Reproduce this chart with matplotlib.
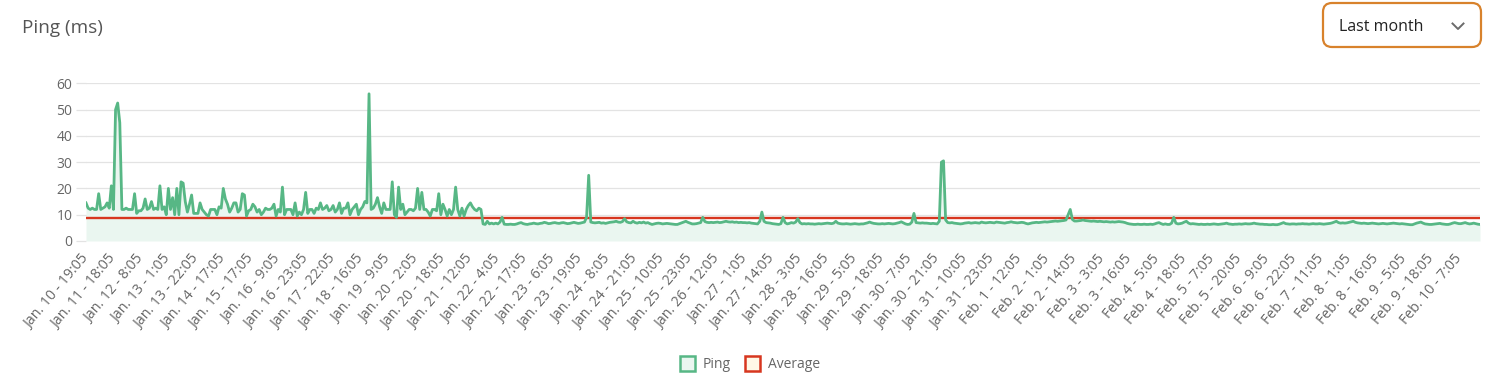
import numpy as np
import matplotlib
matplotlib.use('Agg')
import matplotlib.pyplot as plt
from matplotlib.patches import FancyBboxPatch, Rectangle
from matplotlib.lines import Line2D
from matplotlib.transforms import IdentityTransform

# ---------------- data ----------------
tick_labels = [
    "Jan. 10 - 19:05", "Jan. 11 - 18:05", "Jan. 12 - 8:05", "Jan. 13 - 1:05", "Jan. 13 - 22:05",
    "Jan. 14 - 17:05", "Jan. 15 - 17:05", "Jan. 16 - 9:05", "Jan. 16 - 23:05", "Jan. 17 - 22:05",
    "Jan. 18 - 16:05", "Jan. 19 - 9:05", "Jan. 20 - 2:05", "Jan. 20 - 18:05", "Jan. 21 - 12:05",
    "Jan. 22 - 4:05", "Jan. 22 - 17:05", "Jan. 23 - 6:05", "Jan. 23 - 19:05", "Jan. 24 - 8:05",
    "Jan. 24 - 21:05", "Jan. 25 - 10:05", "Jan. 25 - 23:05", "Jan. 26 - 12:05", "Jan. 27 - 1:05",
    "Jan. 27 - 14:05", "Jan. 28 - 3:05", "Jan. 28 - 16:05", "Jan. 29 - 5:05", "Jan. 29 - 18:05",
    "Jan. 30 - 7:05", "Jan. 30 - 21:05", "Jan. 31 - 10:05", "Jan. 31 - 23:05", "Feb. 1 - 12:05",
    "Feb. 2 - 1:05", "Feb. 2 - 14:05", "Feb. 3 - 3:05", "Feb. 3 - 16:05", "Feb. 4 - 5:05",
    "Feb. 4 - 18:05", "Feb. 5 - 7:05", "Feb. 5 - 20:05", "Feb. 6 - 9:05", "Feb. 6 - 22:05",
    "Feb. 7 - 11:05", "Feb. 8 - 1:05", "Feb. 8 - 16:05", "Feb. 9 - 5:05", "Feb. 9 - 18:05",
    "Feb. 10 - 7:05",
]
points_per_tick = 13

ping_early = [
    14.5, 12.5, 12, 12.5, 12, 12, 18, 12, 12.5, 13,
    14.5, 12.5, 21, 12, 50, 52.5, 45, 12, 12, 12.5,
    12, 12, 12, 18, 10.5, 11.5, 11.5, 12.5, 16, 12,
    12.5, 15, 12, 12.5, 12, 21, 12, 13, 10, 20,
    12, 16.5, 10, 20, 10, 22.5, 22, 15, 11, 14,
    17.5, 10.5, 10.5, 10.5, 14.5, 12, 11, 10, 9.5, 12,
    12, 12, 10, 13, 12.5, 20, 16, 14, 11, 12.5,
    14.5, 14.5, 11, 12, 18, 17.5, 9.5, 11.5, 12, 14,
    13, 11, 12, 10, 11, 12.5, 12, 12, 12.5, 14,
    9.5, 12, 11, 20.5, 10, 12, 12, 12, 10, 14.5,
    9.5, 11, 10, 12, 18.5, 10.5, 12, 12, 10.5, 12.5,
    12, 14.5, 12, 12.5, 13.5, 11.5, 12, 13.5, 11, 12,
    14.5, 10.5, 12.5, 12.5, 14.5, 10, 12, 13, 14, 10,
    12, 13, 15, 14.5, 56, 12, 12.5, 14, 16.5, 13,
    10.5, 14.5, 12, 12, 12, 22.5, 10, 9, 20.5, 12,
    14, 10, 11, 12, 12, 11.5, 12.5, 20, 12, 18.5,
    12, 12, 11, 9.5, 12, 12, 11.5, 18, 10, 14,
    12, 9.5, 12, 10, 12, 20.5, 12, 9.5, 12.5, 9.5,
    12, 13.5, 14.5, 13, 12, 11.5, 12.5, 12, 6.5,
]

ping_late = [
    6.3, 7.5, 6.5, 6.8, 6.5, 6.8, 6.5, 7.2, 9, 6.4,
    6.3, 6.3, 6.4, 6.3, 6.3, 6.5, 6.8, 7, 6.6, 6.4,
    6.3, 6.5, 6.6, 6.8, 6.6, 6.5, 6.7, 6.8, 7.1, 6.9,
    6.6, 6.7, 6.9, 7, 6.8, 6.7, 6.9, 7, 6.8, 6.6,
    6.7, 6.9, 7.1, 6.9, 6.7, 6.8, 7, 7.2, 9, 25,
    7.2, 7, 6.9, 7, 7.1, 6.8, 6.9, 6.7, 6.9, 7.1,
    7.2, 7.3, 7.5, 7.2, 7.1, 7.4, 8.5, 7.3, 7, 6.9,
    7.5, 7, 6.8, 7.1, 6.9, 7.2, 6.8, 7, 6.6, 6.3,
    6.5, 6.7, 6.8, 6.7, 6.5, 6.6, 6.7, 6.6, 6.5, 6.4,
    6.3, 6.3, 6.6, 6.9, 7.2, 7.5, 7.1, 6.8, 6.5, 6.5,
    6.6, 6.8, 7, 9, 7.4, 7.1, 7, 7.1, 7, 7.1,
    7.2, 7, 7.1, 7.3, 7.5, 7.3, 7.2, 7.3, 7.1, 7.2,
    7, 7.1, 7, 7, 6.9, 7, 6.8, 6.7, 6.6, 6.5,
    7.5, 11, 7.5, 7, 6.9, 6.8, 6.6, 6.5, 6.4, 6.3,
    6.6, 9, 7, 6.5, 6.7, 7, 6.8, 7.2, 8.5, 7,
    6.5, 6.6, 6.5, 6.6, 6.5, 6.5, 6.4, 6.5, 6.6, 6.5,
    6.6, 6.7, 6.8, 6.7, 6.6, 6.8, 7.5, 6.8, 6.6, 6.5,
    6.5, 6.6, 6.5, 6.4, 6.5, 6.6, 6.5, 6.4, 6.5, 6.5,
    6.7, 6.9, 7.2, 6.9, 6.7, 6.6, 6.5, 6.5, 6.6, 6.5,
    6.6, 6.7, 6.6, 6.5, 6.6, 6.8, 7, 7.3, 6.9, 6.5,
    6.3, 6.4, 7.2, 10.5, 7, 6.9, 6.8, 6.9, 6.8, 6.8,
    6.7, 6.6, 6.7, 6.6, 6.5, 7.5, 30, 30.5, 8, 7,
    6.9, 7, 6.8, 6.7, 6.6, 6.5, 6.6, 6.8, 6.9, 7,
    6.8, 6.9, 7, 6.9, 6.8, 7.2, 7, 6.9, 7, 7.1,
    7, 6.9, 7.2, 7.1, 7, 6.9, 6.8, 7, 7.1, 7.3,
    7.1, 7, 6.9, 7, 7.1, 7, 6.7, 6.5, 6.7, 6.9,
    7, 7.1, 7, 7.1, 7.2, 7.3, 7.2, 7.3, 7.4, 7.5,
    7.6, 7.5, 7.6, 7.7, 7.8, 8, 10, 12, 8.2, 7.6,
    7.6, 7.7, 7.8, 8, 7.8, 7.7, 7.6, 7.5, 7.6, 7.5,
    7.4, 7.5, 7.4, 7.3, 7.4, 7.3, 7.2, 7.3, 7.2, 7.3,
    7.4, 7.3, 7.2, 7, 6.7, 6.5, 6.4, 6.3, 6.3, 6.4,
    6.3, 6.3, 6.4, 6.3, 6.3, 6.4, 6.3, 6.5, 6.8, 7,
    6.6, 6.3, 6.5, 6.3, 6.3, 6.8, 9, 6.8, 6.5, 6.6,
    6.8, 7.2, 7.5, 6.8, 6.5, 6.6, 6.5, 6.4, 6.3, 6.4,
    6.3, 6.3, 6.4, 6.3, 6.4, 6.5, 6.4, 6.3, 6.4, 6.5,
    6.6, 6.8, 6.5, 6.4, 6.3, 6.4, 6.4, 6.5, 6.4, 6.5,
    6.6, 6.5, 6.5, 6.6, 6.8, 6.6, 6.5, 6.4, 6.4, 6.3,
    6.3, 6.2, 6.2, 6.3, 6.2, 6.2, 6.4, 6.7, 7, 6.6,
    6.5, 6.4, 6.5, 6.5, 6.4, 6.5, 6.5, 6.6, 6.5, 6.5,
    6.4, 6.5, 6.6, 6.5, 6.5, 6.6, 6.5, 6.4, 6.5, 6.6,
    6.7, 6.9, 7.2, 7.5, 7, 6.8, 6.9, 6.8, 6.9, 7.1,
    7.3, 7.5, 7.1, 6.9, 6.8, 6.7, 6.8, 6.7, 6.6, 6.7,
    6.8, 6.7, 6.6, 6.5, 6.6, 6.7, 6.6, 6.5, 6.6, 6.7,
    6.8, 6.7, 6.6, 6.5, 6.6, 6.5, 6.4, 6.3, 6.2, 6.2,
    6.5, 6.8, 7, 7.2, 6.8, 6.5, 6.4, 6.3, 6.3, 6.4,
    6.5, 6.6, 6.7, 6.5, 6.4, 6.3, 6.3, 6.5, 6.8, 7,
    6.8, 6.6, 6.6, 6.8, 7, 6.7, 6.5, 6.6, 6.8, 6.6,
    6.4, 6.3,
]

average_ms = 8.7
y_ticks = [0, 10, 20, 30, 40, 50, 60]
legend_labels = ["Ping", "Average"]

# ---------------- colours ----------------
GREEN = '#57b785'
GREEN_FILL = '#eaf6f0'
RED = '#d7361f'
CREAM = '#fff8e6'
GRID = '#e3e3e3'
TICK = '#666666'

plt.rcParams['font.family'] = ['Open Sans', 'DejaVu Sans']

W, H = 1505, 383
fig = plt.figure(figsize=(W / 100, H / 100), dpi=100)
fig.patch.set_facecolor('white')


def fx(px):
    return px / W


def fy(py):
    return 1 - py / H


ax = fig.add_axes([fx(86), fy(241), fx(1480) - fx(86), fy(83.3) - fy(241)])

ping = np.array(ping_early + ping_late, dtype=float)
x = np.arange(len(ping))

ax.fill_between(x, 0, ping, color=GREEN_FILL, lw=0, zorder=1)
ax.plot(x, np.full(len(x), average_ms), color=RED, lw=1.7, zorder=2, solid_capstyle='butt')
ax.plot(x, ping, color=GREEN, lw=2.0, zorder=3, solid_joinstyle='round')

ax.set_xlim(0, len(ping) - 1)
ax.set_ylim(0, 60)
ax.set_yticks(y_ticks)
ax.yaxis.grid(True, color=GRID, lw=0.9)
ax.xaxis.grid(False)
ax.set_axisbelow(True)
for s in ax.spines.values():
    s.set_visible(False)
ax.tick_params(axis='y', length=7.2, width=0.9, color=GRID, pad=2.5,
               labelsize=10, labelcolor=TICK)

tick_idx = [i * points_per_tick for i in range(len(tick_labels))]
ax.set_xticks(tick_idx)
ax.set_xticklabels(tick_labels, rotation=50, ha='right', va='center',
                   rotation_mode='anchor', fontsize=10.2, color=TICK)
ax.tick_params(axis='x', length=0, pad=11)

# ---------------- title ----------------
fig.text(fx(22), fy(28), "Ping (ms)", fontsize=13.6, color='#555555',
         ha='left', va='center')

# ---------------- dropdown ----------------
idt = IdentityTransform()
box = FancyBboxPatch((1323, H - 47), 158, 44,
                     boxstyle="round,pad=0,rounding_size=9",
                     transform=idt, facecolor='white', edgecolor='#d8822c', lw=1.6)
fig.add_artist(box)
fig.text(fx(1339), fy(27), "Last month", fontsize=11.5, color='#222222',
         ha='left', va='center')
chev = Line2D([1452.5, 1458, 1463.5], [H - 23.5, H - 29, H - 23.5],
              transform=idt, color='#6b6b6b', lw=1.4)
fig.add_artist(chev)

# ---------------- legend ----------------
leg_items = [(680, GREEN_FILL, GREEN, 703), (745, CREAM, RED, 768)]
for (bx, fc, ec, tx), lab in zip(leg_items, legend_labels):
    r = Rectangle((bx, H - 371), 15, 15, transform=idt,
                  facecolor=fc, edgecolor=ec, lw=1.8)
    fig.add_artist(r)
    fig.text(fx(tx), fy(364), lab, fontsize=10, color=TICK,
             ha='left', va='center')

fig.savefig('out.png', dpi=100, facecolor='white')
